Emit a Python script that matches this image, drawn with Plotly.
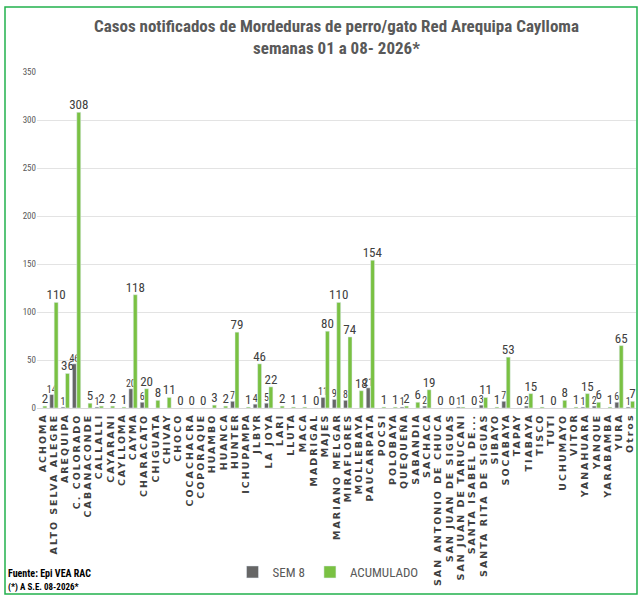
import plotly.graph_objects as go

categories = ["ACHOMA", "ALTO SELVA ALEGRE", "AREQUIPA", "C. COLORADO", "CABANACONDE", "CALLALLI",
              "CAYARANI", "CAYLLOMA", "CAYMA", "CHARACATO", "CHIGUATA", "CHIVAY", "CHOCO",
              "COCACHACRA", "COPORAQUE", "HUAMBO", "HUANCA", "HUNTER", "ICHUPAMPA", "JLBYR",
              "LA JOYA", "LARI", "LLUTA", "MACA", "MADRIGAL", "MAJES", "MARIANO MELGAR",
              "MIRAFLORES", "MOLLEBAYA", "PAUCARPATA", "POCSI", "POLOBAYA", "QUEQUEÑA",
              "SABANDIA", "SACHACA", "SAN ANTONIO DE CHUCA", "SAN JUAN DE SIGUAS",
              "SAN JUAN DE TARUCANI", "SANTA ISABEL DE...", "SANTA RITA DE SIGUAS", "SIBAYO",
              "SOCABAYA", "TAPAY", "TIABAYA", "TISCO", "TUTI", "UCHUMAYO", "VITOR", "YANAHUARA",
              "YANQUE", "YARABAMBA", "YURA", "Otros"]

sem8 = [None, 14, 1, 46, None, 1, None, None, 20, 6, None, None, None, None, None, None, None,
        7, None, 4, 5, None, None, None, None, 11, 9, 8, None, 21, None, None, 1, None, 2,
        None, None, 1, None, 3, None, 7, None, 2, None, None, None, None, 1, 2, None, 6, 1]

acumulado = [2, 110, 36, 308, 5, 2, 2, 1, 118, 20, 8, 11, 0, 0, 0, 3, 2, 79, 1, 46, 22, 2, 1, 1,
             0, 80, 110, 74, 18, 154, 1, 1, 2, 6, 19, 0, 0, 1, 0, 11, 1, 53, 0, 15, 1, 0, 8, 1,
             15, 6, 1, 65, 7]

y_ticks = [0, 50, 100, 150, 200, 250, 300, 350]

W, H = 639, 596
ML, MR, MT, MB = 37, 3, 72, 188

NARROW = "Liberation Sans Narrow, Arial Narrow, Roboto Condensed, sans-serif"

fig = go.Figure()
fig.add_trace(go.Bar(
    x=categories, y=sem8, name="SEM 8",
    marker=dict(color="#666666"),
    text=[("" if v is None else str(v)) for v in sem8],
    textposition="outside", constraintext="none", textangle=0, cliponaxis=False,
    textfont=dict(family=NARROW, size=10, color="#404040"),
))
fig.add_trace(go.Bar(
    x=categories, y=acumulado, name="ACUMULADO",
    marker=dict(color="#7ac143"),
    text=[str(v) for v in acumulado],
    textposition="outside", constraintext="none", textangle=0, cliponaxis=False,
    textfont=dict(family=NARROW, size=13, color="#404040"),
))

pw = W - ML - MR
ph = H - MT - MB


def px_x(x):
    return (x - ML) / pw


def px_y(y):
    return (H - MB - y) / ph


fig.update_layout(
    width=W, height=H,
    margin=dict(l=ML, r=MR, t=MT, b=MB, autoexpand=False),
    paper_bgcolor="white", plot_bgcolor="white",
    barmode="group", bargap=0.22, bargroupgap=0.1,
    title=dict(
        text="Casos notificados de Mordeduras de perro/gato Red Arequipa Caylloma<br>semanas 01 a 08- 2026*",
        x=0.5, xanchor="center", xref="paper", yref="container", y=1 - 32 / H, yanchor="top",
        font=dict(family=NARROW, size=17, color="#595959", weight="bold"),
    ),
    xaxis=dict(
        tickangle=-90, automargin=False, showgrid=False, showline=True, linecolor="#d9d9d9",
        tickmode="array", tickvals=categories, ticktext=categories,
        ticks="", tickfont=dict(family="Verdana, DejaVu Sans, sans-serif", size=9.5, color="#404040", weight="bold"),
        range=[-0.5, len(categories) - 0.5],
    ),
    yaxis=dict(
        range=[0, 350], tickvals=y_ticks, showgrid=True, gridcolor="#e3e3e3", gridwidth=1,
        zeroline=False, automargin=False, ticks="",
        tickfont=dict(family=NARROW, size=9, color="#595959"),
    ),
    legend=dict(
        orientation="h", x=px_x(328), xanchor="center", y=px_y(572), yanchor="middle",
        font=dict(family=NARROW, size=13, color="#595959"), bgcolor="rgba(0,0,0,0)",
        itemwidth=30, tracegroupgap=0,
    ),
    annotations=[
        dict(text="Fuente: Epi VEA RAC", xref="paper", yref="paper", x=px_x(6), y=px_y(573),
             xanchor="left", yanchor="middle", showarrow=False,
             font=dict(family=NARROW, size=10, color="#000000", weight="bold")),
        dict(text="(*) A S.E. 08-2026*", xref="paper", yref="paper", x=px_x(6), y=px_y(587),
             xanchor="left", yanchor="middle", showarrow=False,
             font=dict(family=NARROW, size=9, color="#000000", weight="bold")),
    ],
    shapes=[
        dict(type="rect", xref="paper", yref="paper", x0=px_x(5), x1=px_x(637), y0=px_y(594), y1=px_y(7),
             line=dict(color="#22b14c", width=1.5), fillcolor="rgba(0,0,0,0)", layer="above"),
    ],
    showlegend=True,
)

post = """
document.body.style.margin='0';document.body.style.padding='0';
var gd = document.getElementById('{plot_id}');
function spaceTicks(){
  gd.querySelectorAll('.xtick text').forEach(function(t){
    if (t.dataset.origX === undefined) { t.dataset.origX = t.getAttribute('x') || '0'; }
    var ox = parseFloat(t.dataset.origX);
    t.setAttribute('x', ox);
    t.style.letterSpacing = '0px';
    var b0 = t.getBBox();
    var end0 = b0.x + b0.width;
    t.style.letterSpacing = '2px';
    var b1 = t.getBBox();
    var end1 = b1.x + b1.width;
    t.setAttribute('x', ox + (end0 - end1) - 1);
  });
}
spaceTicks();
gd.on('plotly_afterplot', spaceTicks);
"""

fig.write_html("out.html", config={"displayModeBar": False}, post_script=post)
